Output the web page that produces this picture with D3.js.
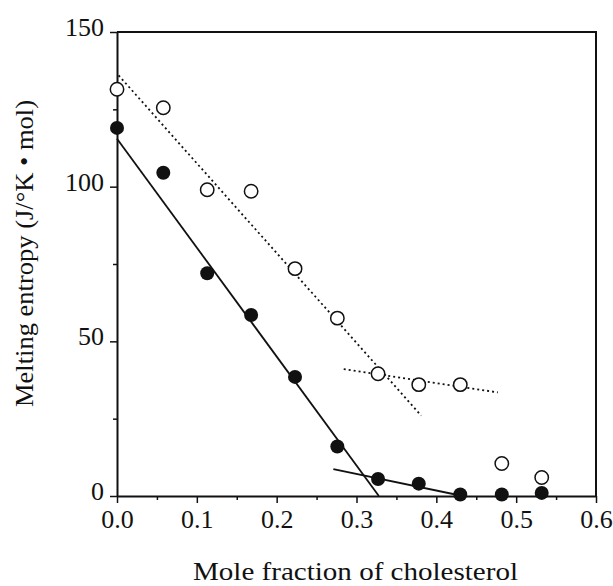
<!DOCTYPE html>
<html>
<head>
<meta charset="utf-8">
<script src="https://d3js.org/d3.v7.min.js"></script>
<style>
    body { margin: 0; background: #fff; }
</style>
</head>
<body>
<div id="chart"></div>
<script>
// mole fraction of cholesterol for each sample
var moleFraction = [0, 0.058, 0.113, 0.168, 0.223, 0.276, 0.327, 0.378, 0.43, 0.482, 0.532];
// open circles
var openEntropy = [131.5, 125.5, 99, 98.5, 73.5, 57.5, 39.5, 36, 36, 10.5, 6];
// filled circles
var filledEntropy = [119, 104.5, 72, 58.5, 38.5, 16, 5.5, 4, 0.5, 0.5, 1];

// fitted lines, [x, y] end points
var solidFitA = [[0, 115.5], [0.328, 0]];
var solidFitB = [[0.271, 8.7], [0.433, 0]];
var dottedFitA = [[0.002, 136], [0.381, 26]];
var dottedFitB = [[0.284, 41], [0.477, 33.5]];

var xTicks = [0, 0.1, 0.2, 0.3, 0.4, 0.5, 0.6];
var xMinorTicks = [0.05, 0.15, 0.25, 0.35, 0.45, 0.55];
var yTicks = [0, 50, 100, 150];
var yMinorTicks = [25, 75, 125];

var serif = "Liberation Serif";

function init() {
    var w = 613;
    var h = 586;

    var svg = d3.select("#chart")
                .append("svg")
                .attr("width", w)
                .attr("height", h);

    var x = d3.scaleLinear().domain([0, 0.6]).range([117, 596]);
    var y = d3.scaleLinear().domain([0, 150]).range([496, 32]);

    //minor ticks first so the major axis draws over them
    svg.append("g")
        .attr("transform", "translate(0,496)")
        .call(d3.axisBottom(x).tickValues(xMinorTicks).tickSize(4).tickFormat(""))
        .call(function(g){ g.select(".domain").remove(); });
    svg.append("g")
        .attr("transform", "translate(117,0)")
        .call(d3.axisLeft(y).tickValues(yMinorTicks).tickSize(4).tickFormat(""))
        .call(function(g){ g.select(".domain").remove(); });

    var xAxis = svg.append("g")
        .attr("transform", "translate(0,496)")
        .call(d3.axisBottom(x).tickValues(xTicks).tickSize(7).tickSizeOuter(0)
              .tickFormat(d3.format(".1f")));
    xAxis.attr("font-family", serif);
    xAxis.selectAll("text").attr("font-size", 26).attr("dy", "0.85em");

    var yAxis = svg.append("g")
        .attr("transform", "translate(117,0)")
        .call(d3.axisLeft(y).tickValues(yTicks).tickSize(7).tickSizeOuter(0));
    yAxis.attr("font-family", serif);
    yAxis.selectAll("text").attr("font-size", 26).attr("x", -13).attr("y", -5).attr("dy", "0.33em");

    svg.selectAll(".tick line").attr("stroke", "#111").attr("stroke-width", 1.5);
    svg.selectAll(".domain").attr("stroke", "#111").attr("stroke-width", 2);
    svg.selectAll(".tick text").attr("font-family", serif).attr("fill", "#111");

    //frame top and right
    svg.append("path")
        .attr("d", "M" + x(0) + "," + y(150) + "H" + x(0.6) + "V" + y(0))
        .attr("fill", "none")
        .attr("stroke", "#111")
        .attr("stroke-width", 2);

    var line = d3.line()
        .x(function(d){ return x(d[0]); })
        .y(function(d){ return y(d[1]); });

    [solidFitA, solidFitB].forEach(function(seg){
        svg.append("path")
            .attr("d", line(seg))
            .attr("fill", "none")
            .attr("stroke", "#111")
            .attr("stroke-width", 1.8);
    });
    [dottedFitA, dottedFitB].forEach(function(seg){
        svg.append("path")
            .attr("d", line(seg))
            .attr("fill", "none")
            .attr("stroke", "#111")
            .attr("stroke-width", 1.8)
            .attr("stroke-dasharray", "2,3");
    });

    svg.selectAll(".open")
        .data(openEntropy)
        .enter()
        .append("circle")
        .attr("class", "open")
        .attr("cx", function(d, i){ return x(moleFraction[i]); })
        .attr("cy", function(d){ return y(d); })
        .attr("r", 6.7)
        .attr("fill", "#fff")
        .attr("stroke", "#111")
        .attr("stroke-width", 1.5);

    svg.selectAll(".filled")
        .data(filledEntropy)
        .enter()
        .append("circle")
        .attr("class", "filled")
        .attr("cx", function(d, i){ return x(moleFraction[i]); })
        .attr("cy", function(d){ return y(d); })
        .attr("r", 7)
        .attr("fill", "#111");

    //axis titles, stretched a bit like the scanned original
    svg.append("text")
        .attr("x", 193)
        .attr("y", 580)
        .attr("font-size", 26)
        .attr("fill", "#111")
        .attr("font-family", serif)
        .attr("textLength", 325)
        .attr("lengthAdjust", "spacingAndGlyphs")
        .text("Mole fraction of cholesterol");

    svg.append("text")
        .attr("transform", "translate(33,407) rotate(-90)")
        .attr("font-size", 26)
        .attr("fill", "#111")
        .attr("font-family", serif)
        .attr("textLength", 307)
        .attr("lengthAdjust", "spacingAndGlyphs")
        .text("Melting entropy (J/\u00b0K \u2022 mol)");
}

init();
</script>
</body>
</html>
